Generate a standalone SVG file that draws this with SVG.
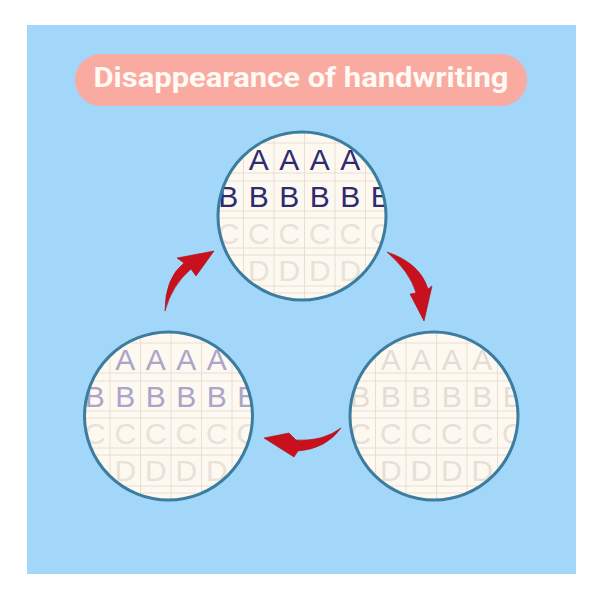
<svg xmlns="http://www.w3.org/2000/svg" xmlns:xlink="http://www.w3.org/1999/xlink" width="600" height="594" viewBox="0 0 600 594">
<style>
.title{font-family:Roboto,"Liberation Sans",sans-serif;font-weight:700;font-size:28px;fill:#fffaf4}
.ltr{font-family:"Liberation Sans",Arial,sans-serif;font-size:30px;text-anchor:middle}
.gl{stroke:#e6dfd2;stroke-width:1;fill:none}
.ring{fill:none;stroke:#3b7c9f;stroke-width:3}
.disc{fill:#fdf9f1}
.arrow{fill:#c8111d;stroke:#a80e18;stroke-width:0.6;stroke-linejoin:round}
</style>
<defs>
<clipPath id="cTop" clipPathUnits="userSpaceOnUse"><circle cx="302" cy="216" r="84"/></clipPath>
<clipPath id="cLeft" clipPathUnits="userSpaceOnUse"><circle cx="168.5" cy="416" r="84"/></clipPath>
<clipPath id="cRight" clipPathUnits="userSpaceOnUse"><circle cx="434" cy="416" r="84"/></clipPath>
<g id="grid" class="gl">
<line x1="-89" y1="-90" x2="-89" y2="90"/>
<line x1="-58.5" y1="-90" x2="-58.5" y2="90"/>
<line x1="-28" y1="-90" x2="-28" y2="90"/>
<line x1="2.5" y1="-90" x2="2.5" y2="90"/>
<line x1="33" y1="-90" x2="33" y2="90"/>
<line x1="63.5" y1="-90" x2="63.5" y2="90"/>
<line x1="-90" y1="-73" x2="90" y2="-73"/>
<line x1="-90" y1="-43" x2="90" y2="-43"/>
<line x1="-90" y1="-35" x2="90" y2="-35"/>
<line x1="-90" y1="-5" x2="90" y2="-5"/>
<line x1="-90" y1="2" x2="90" y2="2"/>
<line x1="-90" y1="32" x2="90" y2="32"/>
<line x1="-90" y1="39" x2="90" y2="39"/>
<line x1="-90" y1="70" x2="90" y2="70"/>
<line x1="-90" y1="77" x2="90" y2="77"/>
</g>
<g id="rowA" class="ltr">
<text x="-43.25" y="-46">A</text><text x="-12.75" y="-46">A</text><text x="17.75" y="-46">A</text><text x="48.25" y="-46">A</text>
</g>
<g id="rowB" class="ltr">
<text x="-73.75" y="-9">B</text><text x="-43.25" y="-9">B</text><text x="-12.75" y="-9">B</text><text x="17.75" y="-9">B</text><text x="48.25" y="-9">B</text><text x="78.75" y="-9">B</text>
</g>
<g id="rowCD" class="ltr">
<text x="-73.75" y="28">C</text><text x="-43.25" y="28">C</text><text x="-12.75" y="28">C</text><text x="17.75" y="28">C</text><text x="48.25" y="28">C</text><text x="78.75" y="28">C</text>
<text x="-43.25" y="65">D</text><text x="-12.75" y="65">D</text><text x="17.75" y="65">D</text><text x="48.25" y="65">D</text>
</g>
</defs>
<rect x="0" y="0" width="600" height="594" fill="#ffffff"/>
<rect x="27" y="25" width="549" height="549" fill="#a3d7fa"/>
<g id="title">
<rect x="75" y="54" width="452" height="52" rx="26" fill="#f9aba1"/>
<text class="title" x="301" y="87" text-anchor="middle" textLength="415" lengthAdjust="spacingAndGlyphs">Disappearance of handwriting</text>
</g>
<g id="circle-top">
<circle class="disc" cx="302" cy="216" r="84"/>
<g clip-path="url(#cTop)"><g transform="translate(302,216)">
<use xlink:href="#grid"/>
<use xlink:href="#rowA" fill="#2f2b70"/>
<use xlink:href="#rowB" fill="#2f2b70"/>
<use xlink:href="#rowCD" fill="#e8e2d8"/>
</g></g>
<circle class="ring" cx="302" cy="216" r="84"/>
</g>
<g id="circle-left">
<circle class="disc" cx="168.5" cy="416" r="84"/>
<g clip-path="url(#cLeft)"><g transform="translate(168.5,416)">
<use xlink:href="#grid"/>
<use xlink:href="#rowA" fill="#aaa5c9"/>
<use xlink:href="#rowB" fill="#aaa5c9"/>
<use xlink:href="#rowCD" fill="#e8e2d8"/>
</g></g>
<circle class="ring" cx="168.5" cy="416" r="84"/>
</g>
<g id="circle-right">
<circle class="disc" cx="434" cy="416" r="84"/>
<g clip-path="url(#cRight)"><g transform="translate(434,416)">
<use xlink:href="#grid"/>
<use xlink:href="#rowA" fill="#e3ddd4"/>
<use xlink:href="#rowB" fill="#e3ddd4"/>
<use xlink:href="#rowCD" fill="#e6e0d6"/>
</g></g>
<circle class="ring" cx="434" cy="416" r="84"/>
</g>
<g id="connectors">
<path class="arrow" d="M165,311 Q165,278 184,263 L177,258 L214,251 L196,276 L191,269 Q172,285 165,311 Z"/>
<path class="arrow" d="M387,252 Q420,263 428,289 L432,286 L424,321 L410,294 L416,293 Q410,272 387,252 Z"/>
<path class="arrow" d="M341,428 Q322,442 296,440 L289,433 L264,438 L294,457 L298,451 Q326,449 341,428 Z"/>
</g>
</svg>
